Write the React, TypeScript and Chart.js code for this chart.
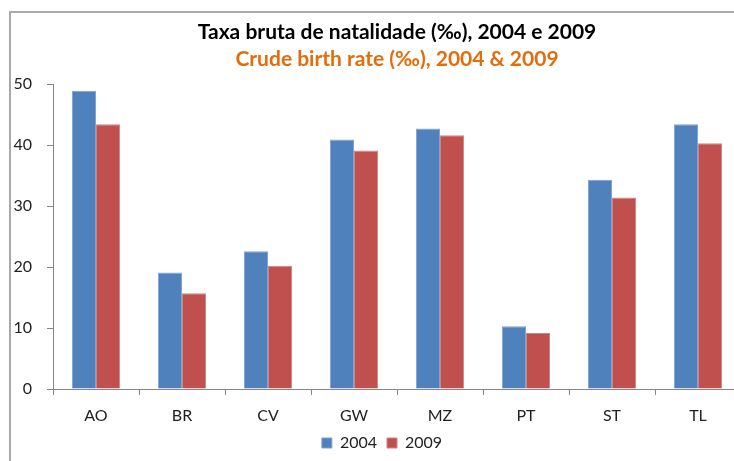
import React, { useEffect, useRef } from "react";
import { Chart, registerables } from "chart.js";

Chart.register(...registerables);

const categories = ["AO", "BR", "CV", "GW", "MZ", "PT", "ST", "TL"];
const values2004 = [48.9, 19.1, 22.6, 40.9, 42.7, 10.3, 34.3, 43.4];
const values2009 = [43.4, 15.7, 20.2, 39.1, 41.6, 9.2, 31.4, 40.3];
const seriesLabels = ["2004", "2009"];
const titleText = "Taxa bruta de natalidade (‰), 2004 e 2009";
const subtitleText = "Crude birth rate (‰), 2004 & 2009";

const FONT = "Lato, 'Liberation Sans', sans-serif";

export default function App() {
  const canvasRef = useRef<HTMLCanvasElement | null>(null);

  useEffect(() => {
    const canvas = canvasRef.current;
    if (!canvas) return;
    const chart = new Chart(canvas, {
      type: "bar",
      data: {
        labels: categories,
        datasets: [
          {
            label: seriesLabels[0],
            data: values2004,
            backgroundColor: "#4F81BD",
            borderColor: "#7FA3D3",
            borderWidth: 1,
            categoryPercentage: 0.56,
            barPercentage: 1.0,
          },
          {
            label: seriesLabels[1],
            data: values2009,
            backgroundColor: "#C0504D",
            borderColor: "#D08482",
            borderWidth: 1,
            categoryPercentage: 0.56,
            barPercentage: 1.0,
          },
        ],
      },
      options: {
        responsive: false,
        animation: false,
        devicePixelRatio: 1,
        layout: { padding: 0 },
        plugins: {
          title: {
            display: true,
            text: titleText,
            fullSize: false,
            color: "#000000",
            font: { family: FONT, size: 21, weight: "bold", lineHeight: 1.2 },
            padding: { top: 20, bottom: 1 },
          },
          subtitle: {
            display: true,
            text: subtitleText,
            fullSize: false,
            color: "#E46C0A",
            font: { family: FONT, size: 21, weight: "bold", lineHeight: 1.2 },
            padding: { top: 0, bottom: 12.6 },
          },
          legend: {
            display: true,
            position: "bottom",
            labels: {
              boxWidth: 10,
              boxHeight: 10,
              padding: 10,
              color: "#222222",
              font: { family: FONT, size: 16 },
            },
          },
          tooltip: { enabled: false },
        },
        scales: {
          x: {
            grid: {
              display: true,
              drawOnChartArea: false,
              drawTicks: true,
              tickLength: 6,
              color: "#868686",
              offset: true,
            },
            border: { display: true, color: "#868686", width: 1 },
            ticks: {
              color: "#222222",
              font: { family: FONT, size: 16 },
              padding: 11,
            },
            afterFit: (s: any) => {
              s.height = 36;
            },
          },
          y: {
            min: 0,
            max: 50,
            ticks: {
              stepSize: 10,
              color: "#222222",
              font: { family: FONT, size: 16 },
              padding: 15,
            },
            grid: {
              display: true,
              drawOnChartArea: false,
              drawTicks: true,
              tickLength: 6,
              color: "#868686",
            },
            border: { display: true, color: "#868686", width: 1 },
            afterFit: (s: any) => {
              s.width = 53;
            },
          },
          y2: {
            position: "right",
            display: true,
            grid: { display: false, drawTicks: false },
            ticks: { display: false },
            border: { display: false },
            afterFit: (s: any) => {
              s.width = 23;
            },
          },
        },
      },
    });
    return () => chart.destroy();
  }, []);

  return (
    <div
      style={{
        position: "fixed",
        left: 0,
        top: 0,
        width: 734,
        height: 461,
        overflow: "hidden",
        background: "#ffffff",
      }}
    >
      <div
        style={{
          position: "absolute",
          left: 9,
          top: 11,
          width: 800,
          height: 500,
          borderLeft: "2px solid #A9A9A9",
          borderTop: "2px solid #A9A9A9",
        }}
      />
      <canvas
        ref={canvasRef}
        width={764}
        height={461}
        style={{ position: "absolute", left: 0, top: 0 }}
      />
    </div>
  );
}
